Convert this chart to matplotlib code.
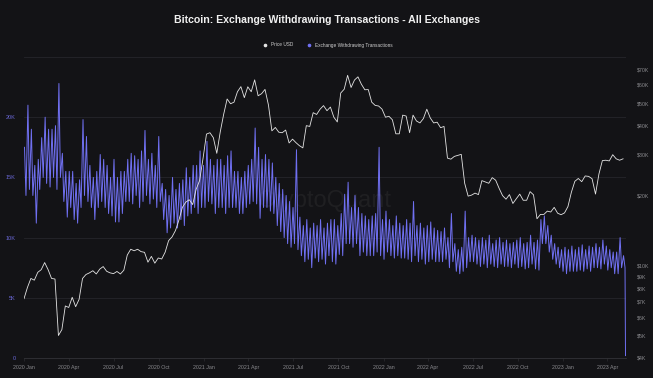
import numpy as np
import pandas as pd
import matplotlib
matplotlib.use('Agg')
import matplotlib.pyplot as plt
import matplotlib.dates as mdates
from matplotlib.lines import Line2D

plt.rcParams['font.family'] = ['Liberation Sans', 'DejaVu Sans']

# weekly BTC price, thousands USD, starting 2020-01-01
price = [7.2, 8.05, 8.8, 8.65, 9.35, 9.6, 10.3, 9.6, 8.8, 8.75,
         5.0, 5.3, 6.7, 6.6, 7.3, 6.65, 7.15, 8.8, 9.15, 9.3,
         9.5, 9.2, 9.65, 9.9, 9.45, 9.3, 9.23, 9.43, 9.2, 9.55,
         11.1, 11.75, 11.58, 11.75, 11.48, 11.4, 10.34, 10.95, 10.24, 10.78,
         10.67, 11.42, 12.8, 13.28, 14.15, 15.7, 17.8, 18.75, 19.2, 18.3,
         21.3, 23.2, 28.9,
         36.8, 37.3, 35.5, 30.4, 37.6, 44.8, 52.1, 49.7, 50.5, 56.0,
         58.9, 52.8, 58.8, 56.0, 63.0, 53.8, 54.9, 57.3, 49.1, 38.0,
         39.3, 37.5, 37.3, 38.3, 33.7, 35.0, 33.8, 32.8, 32.1, 40.0,
         39.7, 45.5, 44.7, 47.1, 48.8, 46.4, 48.1, 43.5, 41.5, 55.3,
         57.4, 65.9, 58.4, 62.9, 64.9, 60.3, 57.1, 57.2, 50.5, 48.9,
         48.6, 47.1,
         43.5, 43.9, 42.4, 36.9, 36.9, 44.4, 44.0, 37.3, 44.4, 41.9,
         41.1, 42.9, 47.1, 43.2, 41.1, 41.4, 39.2, 39.7, 29.0, 28.7,
         29.5, 29.8, 30.1, 22.6, 19.9, 20.1, 20.5, 20.2, 23.2, 22.9,
         22.6, 23.9, 23.3, 21.5, 20.0, 19.3, 20.2, 18.5, 19.4, 20.3,
         19.1, 19.1, 20.8, 20.15, 15.9, 16.6, 16.6, 17.15, 17.0, 17.8,
         16.8, 16.55,
         16.85, 17.95, 20.7, 23.05, 23.7, 22.96, 24.3, 24.2, 23.65, 20.3,
         24.8, 28.3, 28.4, 28.2, 30.0, 28.8, 28.4, 28.8]

# withdrawing transactions, thousands: weekday peak / weekend trough for each week
tx_hi = [17.5, 21.0, 19.0, 16.0, 16.5, 18.3, 20.0, 19.0, 19.0, 19.3,
         22.8, 17.0, 15.5, 15.5, 15.5, 14.5, 14.8, 19.8, 18.4, 16.0,
         15.0, 15.5, 16.9, 16.5, 16.0, 15.0, 16.5, 15.0, 15.5, 15.5,
         16.5, 17.0, 16.8, 16.5, 17.2, 18.9, 16.5, 17.0, 16.0, 18.4,
         14.5, 14.0, 13.5, 15.0, 14.0, 14.5, 14.8, 15.8, 15.0, 16.0,
         16.0, 17.2, 16.0, 18.0, 16.5, 16.0, 16.5, 16.5, 16.0, 16.8,
         17.2, 15.5, 15.5, 15.0, 15.5, 16.0, 16.5, 19.1, 17.5, 16.5,
         16.9, 16.5, 16.2, 15.0, 14.5, 14.0, 13.5, 13.0, 12.5, 17.3,
         11.7, 11.0, 11.5, 10.8, 11.2, 11.0, 11.5, 10.8, 11.2, 11.5,
         11.5, 11.0, 12.0, 13.6, 14.6, 12.5, 13.5, 12.5, 12.0, 11.8,
         11.5, 11.8, 12.0, 17.5, 11.5, 12.2, 11.5, 11.0, 11.8, 11.2,
         11.0, 11.5, 11.2, 13.0, 11.0, 11.2, 10.8, 11.0, 11.3, 10.8,
         10.6, 10.5, 10.8, 10.0, 12.0, 9.5, 9.0, 9.2, 12.2, 10.0,
         10.2, 10.0, 9.8, 10.0, 9.8, 10.2, 9.5, 9.8, 10.0, 9.6,
         9.8, 9.5, 9.6, 9.8, 10.0, 9.5, 9.6, 10.2, 9.6, 9.8,
         11.5, 11.8, 11.0, 10.2, 9.5, 9.2, 9.0, 9.2, 9.0, 9.3,
         9.0, 9.2, 9.4, 9.0, 9.3, 9.2, 9.5, 9.2, 9.8, 9.3,
         9.0, 8.8, 8.8, 10.0, 8.5]
tx_lo = [13.5, 14.0, 13.5, 11.2, 14.0, 15.0, 14.5, 14.2, 15.0, 14.0,
         15.0, 13.0, 11.7, 12.5, 11.5, 11.2, 12.5, 13.5, 13.0, 12.5,
         11.5, 12.5, 13.0, 12.5, 12.0, 11.8, 11.3, 11.3, 12.0, 13.0,
         13.0, 12.8, 13.5, 12.5, 13.0, 13.5, 12.8, 13.2, 12.5, 13.0,
         11.5, 10.4, 10.8, 11.2, 10.8, 11.5, 11.0, 11.8, 12.0, 12.5,
         12.0, 12.5, 12.5, 13.0, 12.8, 12.0, 12.5, 12.5, 12.0, 12.5,
         12.5, 12.5, 12.0, 12.0, 12.5, 12.8, 13.0, 12.8, 11.6, 12.5,
         12.5, 12.2, 12.0, 11.0, 10.5, 10.0, 9.5, 9.2, 9.5, 9.0,
         8.5, 8.0, 8.2, 7.5, 8.3, 8.0, 8.2, 7.8, 8.5, 8.0,
         7.8, 8.6, 8.5, 9.5, 9.5, 9.2, 9.5, 8.5, 8.8, 8.5,
         8.5, 8.5, 8.8, 8.5, 8.2, 8.8, 8.5, 8.3, 8.5, 8.3,
         8.3, 8.2, 8.0, 8.5, 8.0, 8.2, 7.8, 8.0, 8.2, 8.0,
         8.0, 8.0, 8.2, 7.5, 8.0, 7.2, 7.0, 7.2, 7.5, 8.0,
         8.0, 7.8, 7.6, 7.8, 7.5, 7.8, 7.6, 7.5, 7.8, 7.6,
         7.6, 7.5, 7.8, 7.5, 7.6, 7.4, 7.5, 7.8, 7.4, 7.3,
         9.5, 9.5, 8.8, 8.2, 7.8, 7.5, 7.2, 7.0, 7.2, 7.2,
         7.2, 7.3, 7.2, 7.4, 7.2, 7.5, 7.5, 7.4, 7.8, 7.3,
         7.5, 7.0, 7.0, 7.5, 7.5]
tx_end_date = '2023-05-08'
tx_end_value = 0.2

weeks = pd.date_range('2020-01-01', periods=len(price), freq='7D')
tx_x, tx_y = [], []
for d, h, l in zip(weeks, tx_hi, tx_lo):
    tx_x += [d + pd.Timedelta(days=1), d + pd.Timedelta(days=4)]
    tx_y += [h * 1000, l * 1000]
tx_x.append(pd.Timestamp(tx_end_date))
tx_y.append(tx_end_value * 1000)

bg = '#131316'
purple = '#7070f2'
grey = '#8a8a8e'

fig = plt.figure(figsize=(6.53, 3.78), dpi=100, facecolor=bg)
ax = fig.add_axes([24/653, 20/378, 602/653, 301/378])
ax.set_facecolor(bg)
ax2 = ax.twinx()
ax2.patch.set_visible(False)

for v in [5000, 10000, 15000, 20000, 25000]:
    ax.axhline(v, color='#26262b', lw=0.6, zorder=0)

# faint watermark behind the lines
ax.text(0.5, 0.52, 'CryptoQuant', transform=ax.transAxes, ha='center', va='center',
        color='#ffffff', alpha=0.05, fontsize=17, zorder=0)

ax.plot(tx_x, tx_y, color=purple, lw=0.7)
ax2.plot(weeks, np.array(price) * 1000, color='#e4e4e4', lw=0.6)

ax.set_ylim(0, 25000)
ax.set_yticks([0, 5000, 10000, 15000, 20000])
ax.set_yticklabels(['0', '5K', '10K', '15K', '20K'])
ax.tick_params(axis='y', length=0, pad=6, labelsize=4, labelcolor='#6a68d8')

ax2.set_yscale('log')
ax2.set_ylim(4000, 79000)
rt = [4, 5, 6, 7, 8, 9, 10, 20, 30, 40, 50, 60, 70]
ax2.set_yticks([v * 1000 for v in rt])
ax2.set_yticklabels(['$%dK' % v for v in rt])
ax2.yaxis.set_minor_locator(matplotlib.ticker.NullLocator())
ax2.tick_params(axis='y', length=0, pad=8, labelsize=3.8, labelcolor=grey)

ax.set_xlim(pd.Timestamp('2020-01-01'), pd.Timestamp('2023-05-09'))
ax.xaxis.set_major_locator(mdates.MonthLocator(bymonth=[1, 4, 7, 10]))
ax.xaxis.set_major_formatter(mdates.DateFormatter('%Y %b'))
ax.tick_params(axis='x', length=2, width=0.4, color='#333338', pad=3,
               labelsize=3.8, labelcolor=grey)

for a in (ax, ax2):
    for s in a.spines.values():
        s.set_visible(False)
ax.spines['bottom'].set_visible(True)
ax.spines['bottom'].set_color('#333338')
ax.spines['bottom'].set_linewidth(0.6)

fig.text(0.5, 1 - 20/378, 'Bitcoin: Exchange Withdrawing Transactions - All Exchanges',
         ha='center', va='center', color='#f0f0f0', fontsize=7.6, fontweight='bold')

handles = [Line2D([], [], marker='o', ls='none', ms=1.6, color='#e4e4e4'),
           Line2D([], [], marker='o', ls='none', ms=1.6, color=purple)]
fig.legend(handles, ['Price USD', 'Exchange Withdrawing Transactions'],
           loc='center', bbox_to_anchor=(0.5, 1 - 45/378), ncol=2, frameon=False,
           fontsize=3.4, labelcolor='#cfcfcf', handletextpad=0.2, columnspacing=2.5)

fig.savefig('out.png', dpi=100, facecolor=bg)
